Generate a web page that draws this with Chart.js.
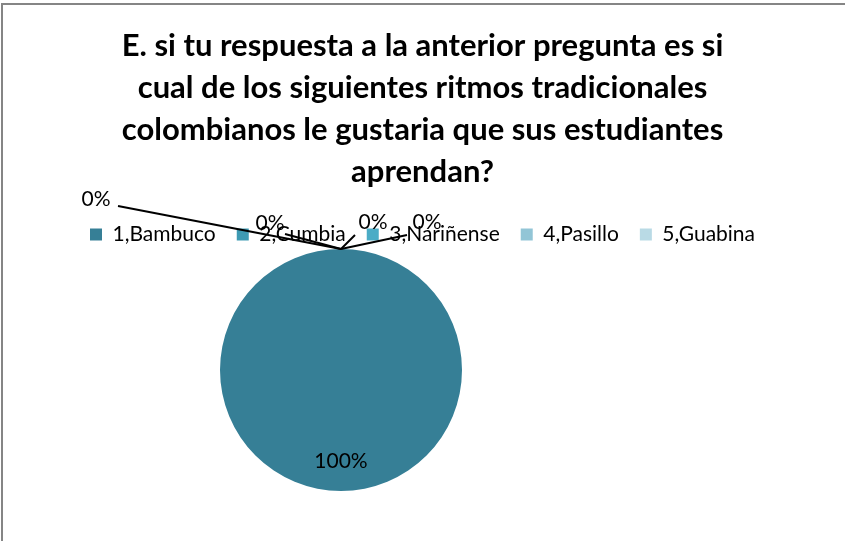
<!DOCTYPE html>
<html>
<head>
<meta charset="utf-8">
<script src="https://cdn.jsdelivr.net/npm/chart.js@4"></script>
<style>
  body { margin: 0; background: #fff; }
  #frame { position: absolute; left: 1px; top: 3px; width: 844px; height: 538px;
           border-top: 2px solid #858585; border-left: 2px solid #858585; }
  #wrap { position: absolute; left: 0; top: 0; width: 845px; height: 541px; }
</style>
</head>
<body>
<div id="frame"></div>
<div id="wrap"><canvas id="pie-chart" width="845" height="541"></canvas></div>
<script>
// chart values
const categories = ['1,Bambuco', '2,Cumbia', '3,Nariñense', '4,Pasillo', '5,Guabina'];
const values = [100, 0, 0, 0, 0];
const percentLabels = ['100%', '0%', '0%', '0%', '0%'];
const titleLines = [
  'E. si tu respuesta a la anterior pregunta es si',
  'cual de los siguientes ritmos tradicionales',
  'colombianos le gustaria que sus estudiantes',
  'aprendan?'
];
const sliceColors = ['#367F96', '#3E9AB3', '#4BACC6', '#92C5D6', '#B9DAE5'];

Chart.defaults.font.family = 'Lato, "Open Sans", sans-serif';
Chart.defaults.color = '#000';

// draws the percent labels, with leader lines for the empty slices
const sliceLabels = {
  id: 'sliceLabels',
  afterDraw(chart, args, opts) {
    const ctx = chart.ctx;
    const arcs = chart.getDatasetMeta(0).data;
    ctx.save();
    ctx.font = '21px Lato';
    ctx.fillStyle = '#000';
    ctx.strokeStyle = '#000';
    ctx.lineWidth = 2;
    ctx.textAlign = 'center';
    ctx.textBaseline = 'middle';
    let zi = 0;
    arcs.forEach((arc, i) => {
      const p = arc.getProps(['x', 'y', 'startAngle', 'endAngle', 'outerRadius']);
      if (values[i] > 0) {
        const mid = (p.startAngle + p.endAngle) / 2;
        const r = p.outerRadius * 0.75;
        ctx.fillText(percentLabels[i], p.x + Math.cos(mid) * r, p.y + Math.sin(mid) * r);
      } else {
        const o = opts.offsets[zi++];
        const ax = p.x + Math.cos(p.startAngle) * p.outerRadius;
        const ay = p.y + Math.sin(p.startAngle) * p.outerRadius;
        ctx.beginPath();
        ctx.moveTo(ax + o.lx, ay + o.ly);
        ctx.lineTo(ax, ay);
        ctx.stroke();
        ctx.fillText(percentLabels[i], ax + o.dx, ay + o.dy);
      }
    });
    ctx.restore();
  }
};

new Chart(document.getElementById('pie-chart'), {
  type: 'pie',
  data: {
    labels: categories,
    datasets: [{
      data: values,
      backgroundColor: sliceColors,
      borderWidth: 0
    }]
  },
  options: {
    responsive: false,
    animation: false,
    layout: { padding: { left: 0, right: 0, top: 0, bottom: 50 } },
    plugins: {
      title: {
        display: true,
        text: titleLines,
        font: { size: 31, weight: 'bold', lineHeight: 42 / 31 },
        padding: { top: 25, bottom: 10 }
      },
      // empty box on the right so the pie sits left of centre
      subtitle: {
        display: true,
        position: 'right',
        fullSize: false,
        text: ' ',
        font: { size: 1, lineHeight: 1 },
        padding: { top: 0, bottom: 162 }
      },
      legend: {
        position: 'top',
        maxHeight: 46,
        labels: {
          boxWidth: 12,
          boxHeight: 12,
          padding: 21,
          font: { size: 21 }
        }
      },
      tooltip: { enabled: false },
      sliceLabels: {
        offsets: [
          { dx: -245, dy: -50, lx: -223, ly: -43 },
          { dx: -71, dy: -26, lx: -56, ly: -15 },
          { dx: 32, dy: -27, lx: 14, ly: -14 },
          { dx: 86, dy: -27, lx: 66, ly: -14 }
        ]
      }
    }
  },
  plugins: [sliceLabels]
});
</script>
</body>
</html>
